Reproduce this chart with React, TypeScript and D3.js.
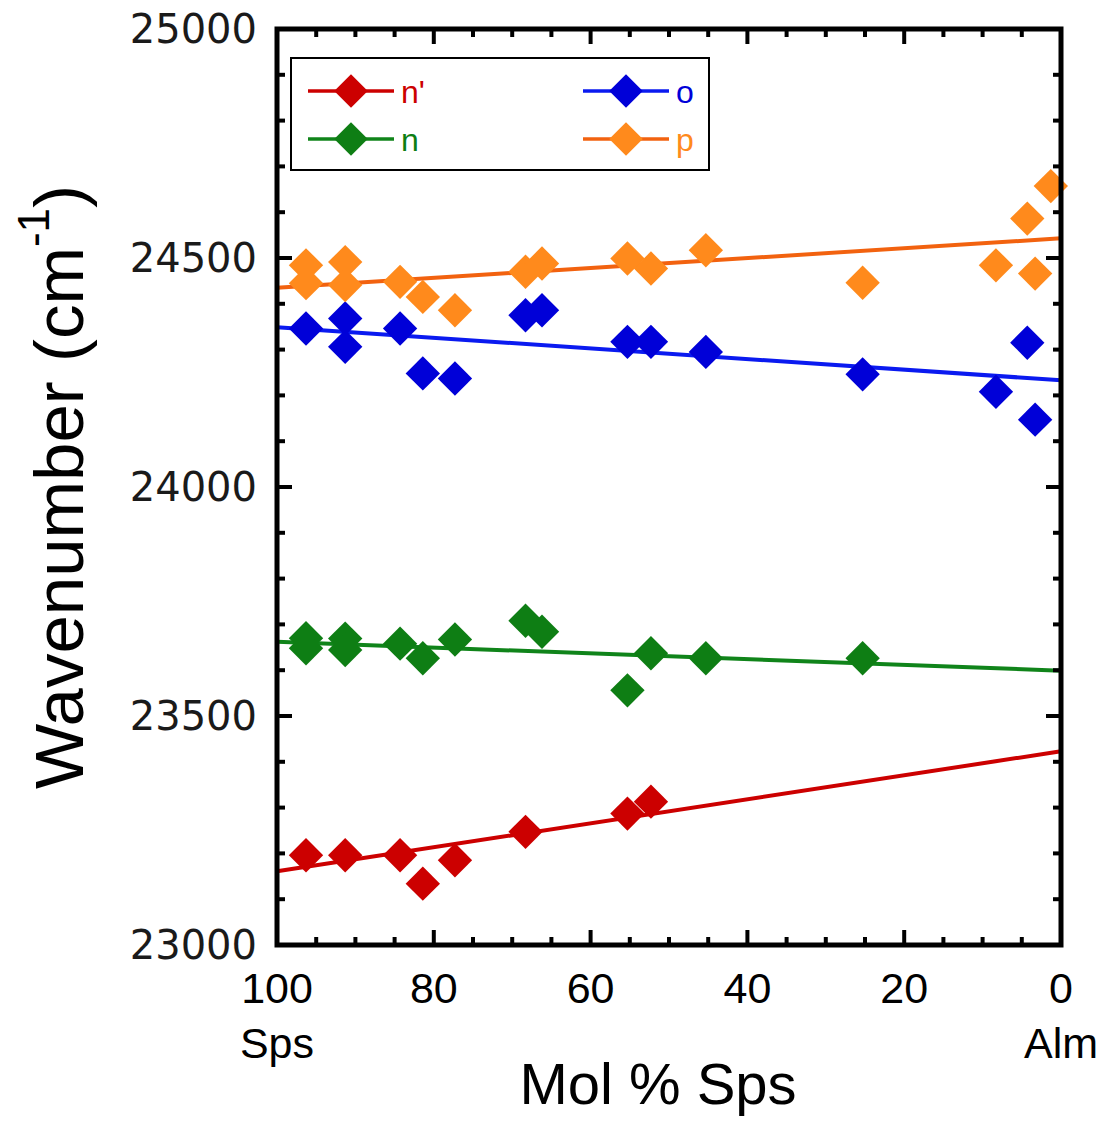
import React from "react";
import * as d3 from "d3";

// ---- data ----
const xDomain = [100, 0];
const yDomain = [23000, 25000];
const xMajorTicks = [100, 80, 60, 40, 20, 0];
const yMajorTicks = [23000, 23500, 24000, 24500, 25000];

const nPrimeX = [96.3, 91.3, 84.3, 81.4, 77.3, 68.3, 55.3, 52.3];
const nPrimeY = [23196, 23196, 23196, 23134, 23185, 23247, 23287, 23313];

const nX = [96.3, 96.3, 91.3, 91.3, 84.3, 81.4, 77.3, 68.3, 66.2, 55.3, 52.3, 45.3, 25.3];
const nY = [23670, 23648, 23669, 23644, 23658, 23626, 23667, 23708, 23684, 23556, 23637, 23626, 23626];

const oX = [96.3, 91.3, 91.3, 84.3, 81.4, 77.3, 68.3, 66.2, 55.3, 52.3, 45.3, 25.3, 8.3, 4.3, 3.3];
const oY = [24346, 24368, 24306, 24346, 24248, 24237, 24375, 24386, 24317, 24317, 24295, 24246, 24208, 24315, 24147];

const pX = [96.3, 96.3, 91.3, 91.3, 84.3, 81.4, 77.3, 68.3, 66.2, 55.3, 52.3, 45.3, 25.3, 8.3, 4.3, 3.3, 1.3];
const pY = [24484, 24445, 24491, 24441, 24448, 24415, 24386, 24470, 24488, 24499, 24477, 24517, 24446, 24484, 24586, 24466, 24657];

// linear fit end values at x = 100 and x = 0
const fitX = [100, 0];
const nPrimeFit = [23161, 23423];
const nFit = [23662, 23599];
const oFit = [24349, 24233];
const pFit = [24435, 24543];

const seriesNames = ["n'", "n", "o", "p"];

const series = [
  { name: seriesNames[0], xs: nPrimeX, ys: nPrimeY, fit: nPrimeFit, marker: "#cc0000", line: "#cc0000" },
  { name: seriesNames[1], xs: nX, ys: nY, fit: nFit, marker: "#0e7e14", line: "#10841a" },
  { name: seriesNames[2], xs: oX, ys: oY, fit: oFit, marker: "#0000d8", line: "#0a1af0" },
  { name: seriesNames[3], xs: pX, ys: pY, fit: pFit, marker: "#ff8a1c", line: "#f2620f" },
];

export default function App() {
  const W = 1107;
  const H = 1125;
  const left = 277, right = 1061, top = 29, bottom = 945;

  const x = d3.scaleLinear().domain(xDomain).range([left, right]);
  const y = d3.scaleLinear().domain(yDomain).range([bottom, top]);

  const xMinor = d3.range(0, 101, 5).filter((v) => v % 20 !== 0);
  const yMinor = d3.range(23000, 25001, 100).filter((v) => v % 500 !== 0);

  const diamond = d3.symbol().type(d3.symbolSquare).size(590)();
  const legendDiamond = d3.symbol().type(d3.symbolSquare).size(560)();
  const lineGen = d3.line<number>().x((_, i) => x(fitX[i])).y((d) => y(d));

  const majorLen = 15, minorLen = 8;
  const tickStroke = 4;

  const legendPos = [
    { lx: 308, ly: 91 },
    { lx: 308, ly: 139 },
    { lx: 583, ly: 91 },
    { lx: 583, ly: 139 },
  ];

  return (
    <svg width={W} height={H} style={{ position: "absolute", left: 0, top: 0, display: "block", background: "#fff" }}>
      {/* fit lines */}
      {series.map((s) => (
        <path key={"fit" + s.name} d={lineGen(s.fit) || ""} fill="none" stroke={s.line} strokeWidth={4} />
      ))}
      {/* markers */}
      {series.map((s) =>
        s.xs.map((xv, i) => (
          <path
            key={s.name + i}
            d={diamond || ""}
            transform={`translate(${x(xv)},${y(s.ys[i])}) rotate(45)`}
            fill={s.marker}
          />
        ))
      )}

      {/* ticks */}
      {xMajorTicks.map((v) => (
        <g key={"xt" + v}>
          <line x1={x(v)} x2={x(v)} y1={bottom} y2={bottom - majorLen} stroke="#000" strokeWidth={tickStroke} />
          <line x1={x(v)} x2={x(v)} y1={top} y2={top + majorLen} stroke="#000" strokeWidth={tickStroke} />
        </g>
      ))}
      {xMinor.map((v) => (
        <g key={"xm" + v}>
          <line x1={x(v)} x2={x(v)} y1={bottom} y2={bottom - minorLen} stroke="#000" strokeWidth={tickStroke} />
          <line x1={x(v)} x2={x(v)} y1={top} y2={top + minorLen} stroke="#000" strokeWidth={tickStroke} />
        </g>
      ))}
      {yMajorTicks.map((v) => (
        <g key={"yt" + v}>
          <line x1={left} x2={left + majorLen} y1={y(v)} y2={y(v)} stroke="#000" strokeWidth={tickStroke} />
          <line x1={right} x2={right - majorLen} y1={y(v)} y2={y(v)} stroke="#000" strokeWidth={tickStroke} />
        </g>
      ))}
      {yMinor.map((v) => (
        <g key={"ym" + v}>
          <line x1={left} x2={left + minorLen} y1={y(v)} y2={y(v)} stroke="#000" strokeWidth={tickStroke} />
          <line x1={right} x2={right - minorLen} y1={y(v)} y2={y(v)} stroke="#000" strokeWidth={tickStroke} />
        </g>
      ))}

      {/* frame */}
      <rect x={left} y={top} width={right - left} height={bottom - top} fill="none" stroke="#000" strokeWidth={5} />

      {/* y tick labels */}
      {yMajorTicks.map((v) => (
        <text
          key={"yl" + v}
          x={257}
          y={y(v)}
          dy="0.36em"
          textAnchor="end"
          fontFamily="DejaVu Sans, Verdana, sans-serif"
          fontSize={40}
          fill="#1a1a1a"
        >
          {v}
        </text>
      ))}
      {/* x tick labels */}
      {xMajorTicks.map((v) => (
        <text
          key={"xl" + v}
          x={x(v)}
          y={1003}
          textAnchor="middle"
          fontFamily="Liberation Sans, Arial, sans-serif"
          fontSize={43}
          fill="#000"
        >
          {v}
        </text>
      ))}
      <text x={x(100)} y={1058} textAnchor="middle" fontFamily="Liberation Sans, Arial, sans-serif" fontSize={43}>
        Sps
      </text>
      <text x={x(0)} y={1058} textAnchor="middle" fontFamily="Liberation Sans, Arial, sans-serif" fontSize={43}>
        Alm
      </text>
      <text x={658} y={1104} textAnchor="middle" fontFamily="Liberation Sans, Arial, sans-serif" fontSize={58}>
        Mol % Sps
      </text>

      {/* y axis title */}
      <text
        transform={`translate(83,${487}) rotate(-90)`}
        textAnchor="middle"
        fontFamily="Liberation Sans, Arial, sans-serif"
        fontSize={69}
      >
        Wavenumber (cm
        <tspan dy={-34} fontSize={44}>-1</tspan>
        <tspan dy={34}>)</tspan>
      </text>

      {/* legend */}
      <rect x={291} y={58} width={418} height={112} fill="#fff" stroke="#000" strokeWidth={2} />
      {series.map((s, i) => {
        const p = legendPos[i];
        return (
          <g key={"lg" + s.name}>
            <line x1={p.lx} x2={p.lx + 86} y1={p.ly} y2={p.ly} stroke={s.line} strokeWidth={3.5} />
            <path d={legendDiamond || ""} transform={`translate(${p.lx + 43},${p.ly}) rotate(45)`} fill={s.marker} />
            <text
              x={p.lx + 93}
              y={p.ly + 12}
              fontFamily="Liberation Sans, Arial, sans-serif"
              fontSize={32}
              fill={s.marker}
            >
              {s.name}
            </text>
          </g>
        );
      })}
    </svg>
  );
}
